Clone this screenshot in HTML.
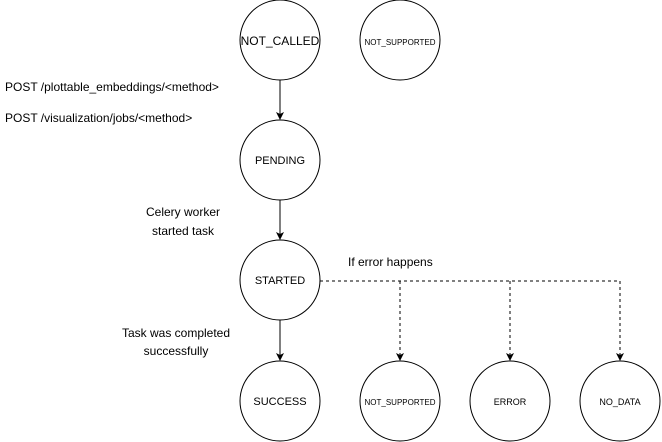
<!DOCTYPE html>
<html><head><style>body{margin:0;background:#fff}</style></head><body>
<svg width="662" height="442" xmlns="http://www.w3.org/2000/svg" style="display:block;font-family:'Liberation Sans',sans-serif">
<defs><marker id="a" markerWidth="8" markerHeight="8" refX="7" refY="4" orient="auto" markerUnits="userSpaceOnUse"><path d="M0,0 L8,4 L0,8 L2,4 z" fill="#000"/></marker></defs>
<g fill="#fff" stroke="#000" stroke-width="1">
<circle cx="280" cy="40" r="40"/><circle cx="400" cy="40" r="40"/>
<circle cx="280" cy="160" r="40"/><circle cx="280" cy="280" r="40"/>
<circle cx="280" cy="401" r="40"/><circle cx="400" cy="401" r="40"/>
<circle cx="510" cy="401" r="40"/><circle cx="620" cy="401" r="40"/>
</g>
<g stroke="#000" fill="none">
<line x1="280" y1="80" x2="280" y2="119" marker-end="url(#a)"/>
<line x1="280" y1="200" x2="280" y2="239" marker-end="url(#a)"/>
<line x1="280" y1="320" x2="280" y2="360" marker-end="url(#a)"/>
<g stroke-dasharray="3,3">
<line x1="320" y1="281" x2="620" y2="281"/>
<line x1="400" y1="281" x2="400" y2="360" marker-end="url(#a)"/>
<line x1="510" y1="281" x2="510" y2="360" marker-end="url(#a)"/>
<line x1="620" y1="281" x2="620" y2="360" marker-end="url(#a)"/>
</g></g>
<g font-size="12" text-anchor="middle" fill="#000">
<text x="280" y="45">NOT_CALLED</text>
<text x="400" y="45" font-size="8">NOT_SUPPORTED</text>
<text x="280" y="164" font-size="11">PENDING</text>
<text x="280" y="284" font-size="11">STARTED</text>
<text x="280" y="405" font-size="11">SUCCESS</text>
<text x="400" y="405" font-size="8">NOT_SUPPORTED</text>
<text x="510" y="405" font-size="9">ERROR</text>
<text x="620" y="405" font-size="9">NO_DATA</text>
<text x="183" y="216">Celery worker</text>
<text x="183" y="235">started task</text>
<text x="176" y="337">Task was completed</text>
<text x="176" y="355">successfully</text>
</g>
<g font-size="12" fill="#000">
<text x="5" y="91">POST /plottable_embeddings/&lt;method&gt;</text>
<text x="5" y="122">POST /visualization/jobs/&lt;method&gt;</text>
<text x="348" y="266">If error happens</text>
</g>
</svg>
</body></html>
